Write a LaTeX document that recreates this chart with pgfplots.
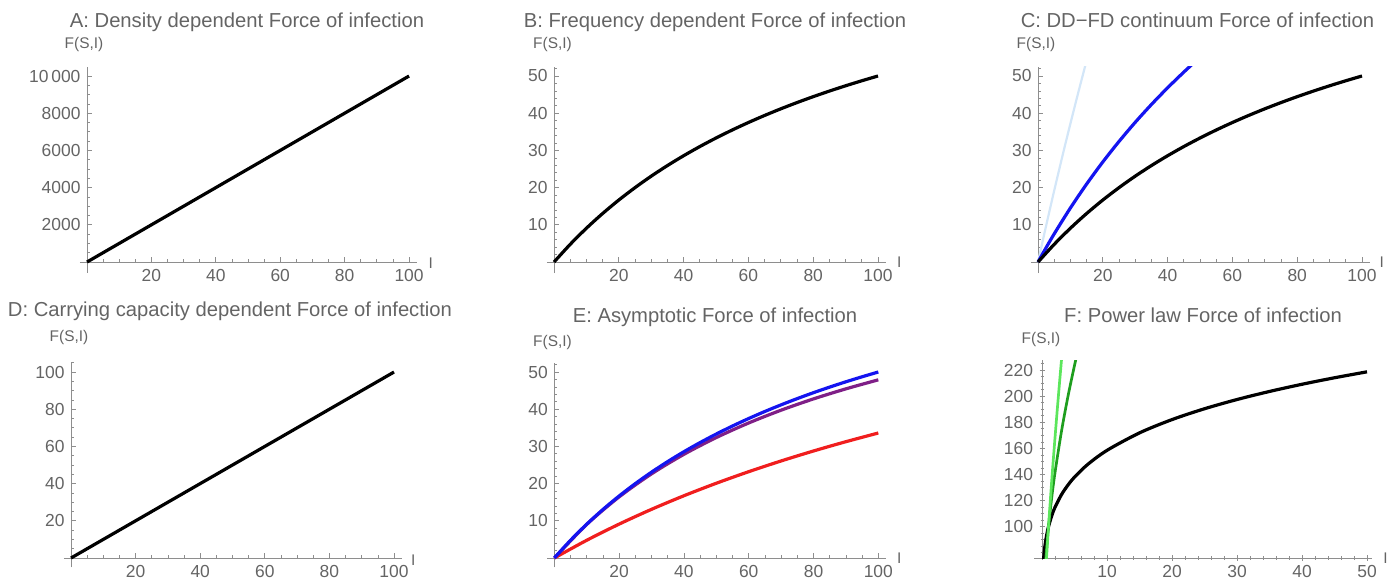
\documentclass[border=0pt]{standalone}
\usepackage{fontspec}
\setmainfont{Liberation Sans}
\usepackage{pgfplots}
\pgfplotsset{compat=1.18}
\definecolor{txt}{HTML}{646464}
\definecolor{ax}{HTML}{8E8E8E}
\definecolor{lblue}{HTML}{D3E6F8}
\definecolor{mblue}{HTML}{1414F0}
\definecolor{mpurple}{HTML}{7F1F87}
\definecolor{mred}{HTML}{F01E1E}
\definecolor{lgreen}{HTML}{5CE65C}
\definecolor{dgreen}{HTML}{1E9E1E}
\newcommand\tl{\fontsize{17.5}{19}\selectfont}
\newcommand\ttl{\fontsize{20.3}{23}\selectfont}
\newcommand\lab{\fontsize{15.5}{18}\selectfont}

\pgfplotsset{mma/.style={
  scale only axis, anchor=south west,
  axis lines=middle,
  axis line style={-,draw=ax,line width=0.9bp},
  every inner x axis line/.append style={-},
  every inner y axis line/.append style={-},
  tick align=inside,
  major tick length=5bp, minor tick length=3bp,
  tick style={draw=ax,line width=0.8bp},
  minor tick style={draw=ax,line width=0.7bp},
  scaled x ticks=false, scaled y ticks=false,
  tick label style={font=\tl,text=txt},
  xticklabel style={anchor=north,yshift=-4bp},
  yticklabel style={anchor=east,xshift=-3bp},
  xtick={20,40,60,80,100}, xticklabels={20,40,60,80,100},
  minor xtick={0,5,...,100},
  xmin=-2.2, xmax=102.5,
  every axis plot/.append style={line width=3.2bp, line join=round},
}}

\begin{document}
\begin{tikzpicture}
\useasboundingbox (0,0) rectangle (1387bp,579bp);

% A
\begin{axis}[mma, at={(79.9bp,306bp)}, width=337.2bp, height=205.9bp,
  ymin=-590, ymax=10480,
  ytick={2000,4000,6000,8000,10000}, yticklabels={2000,4000,6000,8000,10\,000},
  minor ytick={0,500,...,10000}]
\addplot[black] coordinates {(0,0) (100,10000)};
\end{axis}

% B
\begin{axis}[mma, at={(546.9bp,305.8bp)}, width=339.2bp, height=206.5bp,
  ymin=-3, ymax=52.5,
  ytick={10,20,30,40,50}, yticklabels={10,20,30,40,50},
  minor ytick={0,2,...,52}]
\addplot[black,smooth] coordinates {(0,0) (5,4.762) (10,9.091) (15,13.043) (20,16.667) (25,20) (30,23.077) (35,25.926) (40,28.571) (45,31.034) (50,33.333) (55,35.484) (60,37.5) (65,39.394) (70,41.176) (75,42.857) (80,44.444) (85,45.946) (90,47.368) (95,48.718) (100,50)};
\end{axis}

% C
\begin{axis}[mma, at={(1030.9bp,305.8bp)}, width=339.2bp, height=206.5bp,
  ymin=-3, ymax=52.5,
  ytick={10,20,30,40,50}, yticklabels={10,20,30,40,50},
  minor ytick={0,2,...,52}]
\addplot[lblue,smooth,line width=2.2bp] coordinates {(0,0) (2,7.853) (5,19.24) (8,30.18) (10,37.24) (12,44.13) (14,50.85) (15,54.15)};
\addplot[mblue,smooth] coordinates {(0,0) (2,3.113) (5,7.583) (10,14.54) (15,20.96) (20,26.90) (25,32.41) (30,37.55) (35,42.34) (40,46.83) (45,51.05) (48,53.46)};
\addplot[black,smooth] coordinates {(0,0) (5,4.762) (10,9.091) (15,13.043) (20,16.667) (25,20) (30,23.077) (35,25.926) (40,28.571) (45,31.034) (50,33.333) (55,35.484) (60,37.5) (65,39.394) (70,41.176) (75,42.857) (80,44.444) (85,45.946) (90,47.368) (95,48.718) (100,50)};
\end{axis}

% D
\begin{axis}[mma, at={(63.9bp,11.7bp)}, width=338.2bp, height=205.5bp,
  ymin=-5, ymax=105.5,
  ytick={20,40,60,80,100}, yticklabels={20,40,60,80,100},
  minor ytick={0,5,...,105}]
\addplot[black] coordinates {(0,0) (100,100)};
\end{axis}

% E
\begin{axis}[mma, at={(547.2bp,11.7bp)}, width=339.2bp, height=204.6bp,
  ymin=-2.5, ymax=52.5,
  ytick={10,20,30,40,50}, yticklabels={10,20,30,40,50},
  minor ytick={0,2,...,52}]
\addplot[mred,smooth] coordinates {(0,0) (10,4.767) (20,9.111) (30,13.084) (40,16.734) (50,20.096) (60,23.205) (70,26.088) (80,28.769) (90,31.267) (100,33.602)};
\addplot[mpurple,smooth] coordinates {(0,0) (10,9.019) (20,16.426) (30,22.618) (40,27.871) (50,32.383) (60,36.302) (70,39.737) (80,42.772) (90,45.473) (100,47.893)};
\addplot[mblue,smooth] coordinates {(0,0) (5,4.762) (10,9.091) (15,13.043) (20,16.667) (25,20) (30,23.077) (35,25.926) (40,28.571) (45,31.034) (50,33.333) (55,35.484) (60,37.5) (65,39.394) (70,41.176) (75,42.857) (80,44.444) (85,45.946) (90,47.368) (95,48.718) (100,50)};
\end{axis}

% F
\begin{axis}[mma, at={(1034.2bp,21.0bp)}, width=338bp, height=197.7bp,
  axis x line=bottom, axis y line=middle,
  axis line style={-,draw=ax,line width=0.9bp},
  xticklabel style={yshift=2.5bp},
  xmin=-1.2, xmax=50.8, ymin=76, ymax=227.5,
  xtick={10,20,30,40,50}, xticklabels={10,20,30,40,50},
  minor xtick={0,2,...,50},
  ytick={100,120,140,160,180,200,220}, yticklabels={100,120,140,160,180,200,220},
  minor ytick={80,85,...,225}]
\addplot[black,smooth] coordinates {(0.2,72.48) (0.3,78.6) (0.5,87.06) (0.75,94.41) (1,100) (1.5,108.45) (2,114.87) (3,124.57) (4,131.95) (5,137.97) (7,147.58) (10,158.49) (15,171.88) (20,182.06) (25,190.37) (30,197.44) (35,203.62) (40,209.13) (45,214.11) (50,218.67)};
\addplot[dgreen,smooth,line width=2.7bp] coordinates {(0.5,70.71) (1,100) (1.5,122.47) (2,141.42) (3,173.21) (4,200) (5,223.61) (5.5,234.52)};
\addplot[lgreen,smooth,line width=2.7bp] coordinates {(0.6,68.17) (1,100) (1.5,135.54) (2,168.18) (2.5,198.84) (3,227.95) (3.2,239.3)};
\end{axis}

% titles
\node[font=\ttl,text=txt,anchor=base] at (247bp,551bp) {A: Density dependent Force of infection};
\node[font=\ttl,text=txt,anchor=base] at (715bp,551bp) {B: Frequency dependent Force of infection};
\node[font=\ttl,text=txt,anchor=base] at (1197.5bp,551bp) {C: DD−FD continuum Force of infection};
\node[font=\ttl,text=txt,anchor=base] at (230bp,262bp) {D: Carrying capacity dependent Force of infection};
\node[font=\ttl,text=txt,anchor=base] at (715bp,256bp) {E: Asymptotic Force of infection};
\node[font=\ttl,text=txt,anchor=base] at (1203bp,256bp) {F: Power law Force of infection};

% y labels
\node[font=\lab,text=txt] at (84bp,534bp) {F(S,I)};
\node[font=\lab,text=txt] at (552.5bp,534bp) {F(S,I)};
\node[font=\lab,text=txt] at (1036bp,534bp) {F(S,I)};
\node[font=\lab,text=txt] at (69bp,241.5bp) {F(S,I)};
\node[font=\lab,text=txt] at (552.5bp,236bp) {F(S,I)};
\node[font=\lab,text=txt] at (1041bp,239bp) {F(S,I)};

% x labels
\node[font=\lab,text=txt] at (430.7bp,316bp) {I};
\node[font=\lab,text=txt] at (899.3bp,317bp) {I};
\node[font=\lab,text=txt] at (1381.7bp,317bp) {I};
\node[font=\lab,text=txt] at (413.3bp,19bp) {I};
\node[font=\lab,text=txt] at (899.3bp,21bp) {I};
\node[font=\lab,text=txt] at (1385.5bp,21bp) {I};
\end{tikzpicture}
\end{document}
